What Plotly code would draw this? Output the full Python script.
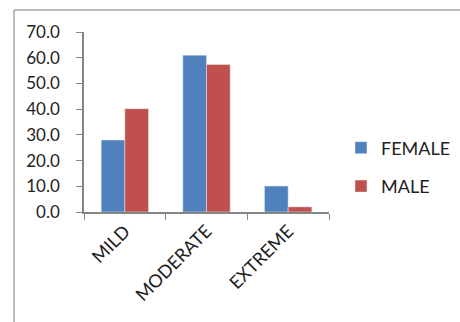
import plotly.graph_objects as go

categories = ["MILD", "MODERATE", "EXTREME"]
female = [28.0, 61.0, 10.1]
male = [40.2, 57.4, 2.0]
y_ticks = [0, 10, 20, 30, 40, 50, 60, 70]

W, H = 460, 322
L, R, T, B = 84, 131, 32, 110
pw, ph = W - L - R, H - T - B

FONT = "Lato"

fig = go.Figure()
fig.add_trace(go.Bar(name="FEMALE", x=categories, y=female, marker_color="#4F81BD",
                     legendgroup="f"))
fig.add_trace(go.Bar(name="MALE", x=categories, y=male, marker_color="#C0504D",
                     legendgroup="m"))

def px(x):
    return (x - L) / pw

def py(y):
    return (H - B - y) / ph

shapes = [
    dict(type="line", xref="paper", yref="paper", x0=px(14), x1=px(470), y0=py(10), y1=py(10),
         line=dict(color="#A6A6A6", width=1.5)),
    dict(type="line", xref="paper", yref="paper", x0=px(14), x1=px(14), y0=py(10), y1=py(340),
         line=dict(color="#A6A6A6", width=1.5)),
]

fig.update_layout(
    width=W, height=H,
    margin=dict(l=L, r=R, t=T, b=B, autoexpand=False),
    paper_bgcolor="white", plot_bgcolor="white",
    barmode="group", bargap=0.42, bargroupgap=0,
    font=dict(family=FONT, size=16, color="#222222"),
    shapes=shapes,
    showlegend=True,
    legend=dict(x=px(341), y=py(167), xanchor="left", yanchor="middle",
                font=dict(family=FONT, size=18, color="#222222"),
                tracegroupgap=12, bgcolor="rgba(0,0,0,0)"),
    xaxis=dict(showline=True, linecolor="#868686", linewidth=1.5,
               ticks="outside", tickson="boundaries", ticklen=6, tickcolor="#868686",
               tickangle=-45, tickfont=dict(family=FONT, size=18, color="#222222"),
               showgrid=False, automargin=False),
    yaxis=dict(range=[0, 70], tickvals=y_ticks, tickformat=".1f",
               showline=True, linecolor="#868686", linewidth=1.5,
               ticks="outside", ticklen=6, tickcolor="#868686",
               ticklabelstandoff=13,
               tickfont=dict(family=FONT, size=17, color="#222222"),
               showgrid=False, zeroline=False, automargin=False),
)

fig.write_html("out.html", config={"displayModeBar": False},
               post_script="document.body.style.margin='0';document.body.style.overflow='hidden';")
